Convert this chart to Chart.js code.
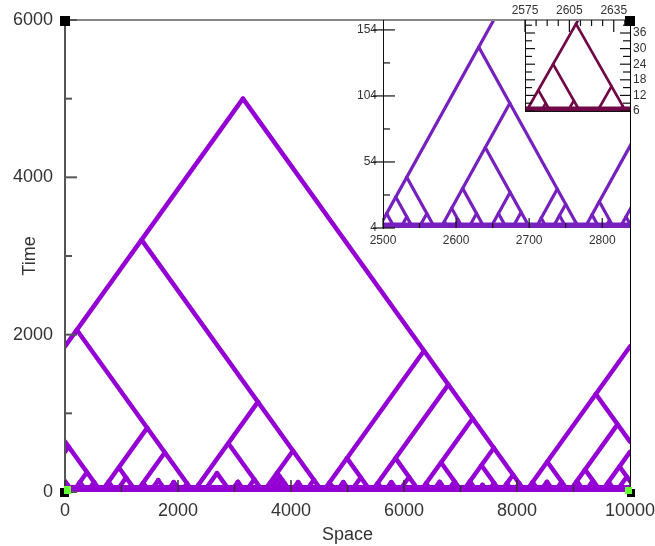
<!DOCTYPE html>
<html>
<head>
<meta charset="utf-8">
<title>Space-time diagram</title>
<script src="https://cdn.jsdelivr.net/npm/chart.js@4.4.1/dist/chart.umd.min.js"></script>
<style>
  html, body { margin: 0; padding: 0; background: #fff; }
  #stage { position: relative; width: 655px; height: 546px; }
  #stage canvas { position: absolute; left: 0; top: 0; }
</style>
</head>
<body>
<div id="stage">
  <canvas id="mainChart" width="655" height="546"></canvas>
  <canvas id="zoomChart" width="655" height="546"></canvas>
  <canvas id="detailChart" width="655" height="546"></canvas>
</div>
<script>
// Every particle starts at time 0 and sends one arm to the left and one to the right.
// Each arm runs at speed 1 until it hits another line (lifetimes).

// Main panel (space 0..10000, periodic)
const mainOrigin    = [138, 390, 640, 900, 1265, 1500, 1800, 2050, 2270, 2450, 2930, 3190, 3510, 3600, 3690, 3780, 4000, 4250, 4560, 4800, 5050, 5420, 5650, 5900, 6280, 6500, 6760, 7030, 7300, 7480, 7710, 7930, 8150, 8400, 8660, 8920, 9200, 9490, 9750];
const mainLeftLife  = [324, 126, 1245, 130, 312, 117, 150, 125, 2060, 90, 240, 130, 620, 45, 45, 45, 245, 125, 3205, 120, 125, 430, 115, 125, 430, 110, 130, 375, 135, 90, 340, 110, 5000, 125, 130, 385, 140, 285, 130];
const mainRightLife = [251, 125, 815, 182, 502, 150, 125, 110, 1145, 240, 130, 160, 525, 200, 155, 110, 125, 155, 1795, 125, 185, 1365, 125, 190, 935, 130, 135, 560, 90, 115, 220, 110, 5000, 130, 130, 860, 145, 575, 194];
const mainBaseRow = [0, 10000];   // the dense row of tiny particles near time 0
const mainBaseTime = 25;

// First zoom (space 2500..2838, time 4..161)
const zoomOrigin    = [2490, 2520, 2545, 2575, 2593, 2613, 2643, 2673, 2705, 2728, 2755, 2772, 2800, 2820, 2845];
const zoomLeftLife  = [10, 15, 27.5, 42.5, 9, 19, 34, 15, 65, 11.5, 13.5, 141, 14, 24, 12.5];
const zoomRightLife = [200, 12.5, 15, 98.5, 10, 15, 31, 16, 33.5, 22, 8.5, 100, 10, 40, 5];
const zoomBaseRow = [2490, 2850];
const zoomBaseTime = 5.5;

// Second zoom (space 2575..2646, time 6..41)
const detailOrigin    = [2570, 2580, 2598, 2608, 2618, 2626, 2633, 2641, 2649];
const detailLeftLife  = [3, 5, 14, 5, 24, 4, 7.5, 4, 39.5];
const detailRightLife = [60, 9, 10, 5, 15.5, 3.5, 8, 4, 3];
const detailBaseRow = [2570, 2650];
const detailBaseTime = 6.8;

// Tick labels and minor ticks
const spaceTicks = [0, 2000, 4000, 6000, 8000, 10000];
const spaceMinor = [1000, 3000, 5000, 7000, 9000];
const timeTicks = [0, 2000, 4000, 6000];
const timeMinor = [1000, 3000, 5000];
const zoomSpaceTicks = [2500, 2600, 2700, 2800];
const zoomSpaceMinor = [2550, 2650, 2750];
const zoomTimeTicks = [4, 54, 104, 154];
const zoomTimeMinor = [29, 79, 129];
const detailSpaceTicks = [2575, 2605, 2635];
const detailSpaceMinor = [2582.5, 2590, 2597.5, 2612.5, 2620, 2627.5, 2642.5];
const detailTimeTicks = [6, 12, 18, 24, 30, 36];
const detailTimeMinor = [9, 15, 21, 27, 33, 39];

// Build line segments for every arm (wrapping round the ring when asked)
function armSegments(origin, leftLife, rightLife, xMin, xMax, wrap) {
    const segs = [];
    origin.forEach((x0, i) => {
        [[-1, leftLife[i]], [1, rightLife[i]]].forEach(([dir, life]) => {
            const x1 = x0 + dir * life;
            if (wrap && (x1 < xMin || x1 > xMax)) {
                const edge = dir > 0 ? xMax : xMin;
                const other = dir > 0 ? xMin : xMax;
                const tEdge = Math.abs(edge - x0);
                segs.push([{x: x0, y: 0}, {x: edge, y: tEdge}]);
                segs.push([{x: other, y: tEdge}, {x: other + dir * (life - tEdge), y: life}]);
            } else {
                segs.push([{x: x0, y: 0}, {x: x1, y: life}]);
            }
        });
    });
    return segs;
}

function makeDatasets(segs, baseRow, baseTime, color, width, baseWidth) {
    const sets = segs.map(s => ({
        data: s, showLine: true, borderColor: color, borderWidth: width,
        borderCapStyle: 'round', pointRadius: 0, tension: 0
    }));
    sets.push({
        data: baseRow.map(x => ({x: x, y: baseTime})), showLine: true,
        borderColor: color, borderWidth: baseWidth, pointRadius: 0
    });
    return sets;
}

// Tick marks drawn inside the frames, through each chart's own scales
function drawMarks(chart, marks) {
    const {ctx, chartArea} = chart;
    marks.forEach(m => {
        const scale = chart.scales[m.scale];
        ctx.strokeStyle = m.color;
        ctx.lineWidth = m.width;
        m.values.forEach(v => {
            const p = scale.getPixelForValue(v);
            const e = chartArea[m.edge];
            ctx.beginPath();
            if (scale.isHorizontal()) { ctx.moveTo(p, e + m.from); ctx.lineTo(p, e + m.to); }
            else { ctx.moveTo(e + m.from, p); ctx.lineTo(e + m.to, p); }
            ctx.stroke();
        });
    });
}

function line(ctx, x1, y1, x2, y2, color, width) {
    ctx.strokeStyle = color;
    ctx.lineWidth = width;
    ctx.beginPath();
    ctx.moveTo(x1, y1);
    ctx.lineTo(x2, y2);
    ctx.stroke();
}

const bigFont = { family: 'Liberation Sans, Arial, sans-serif', size: 18 };
const smallFont = { family: 'Liberation Sans, Arial, sans-serif', size: 12 };

function axis(min, max, tickList, font, padding, fitSize, extra) {
    return Object.assign({
        type: 'linear', min: min, max: max,
        grid: { display: false, drawTicks: false },
        border: { display: false },
        afterBuildTicks: s => { s.ticks = tickList.map(v => ({value: v})); },
        afterFit: s => {
            if (s.isHorizontal()) s.height = fitSize; else s.width = fitSize;
            // keep label overhang from shrinking the plot area
            s.paddingLeft = 0; s.paddingRight = 0; s.paddingTop = 0; s.paddingBottom = 0;
        },
        ticks: { padding: padding, color: '#333', font: font, maxRotation: 0, autoSkip: false, callback: v => String(v) }
    }, extra || {});
}

const baseOptions = {
    responsive: false, animation: false, events: [],
    plugins: { legend: { display: false }, tooltip: { enabled: false } }
};

// ---- main panel ----
const mainPlugin = {
    id: 'mainDecor',
    afterDatasetsDraw(chart) {
        const {ctx, chartArea: a} = chart;
        ctx.save();
        line(ctx, a.left, a.top, a.right, a.top, '#888', 2);
        line(ctx, a.right + 0.5, a.top, a.right + 0.5, a.bottom, '#000', 1);
        line(ctx, a.left, a.top - 1, a.left, a.bottom, '#555', 2);
        drawMarks(chart, [
            {scale: 'y', edge: 'left', values: timeTicks, from: 0, to: 12, color: '#555', width: 2},
            {scale: 'y', edge: 'left', values: timeMinor, from: 0, to: 7, color: '#555', width: 2},
            {scale: 'x', edge: 'bottom', values: spaceTicks, from: 0, to: -12, color: '#333', width: 1.5},
            {scale: 'x', edge: 'bottom', values: spaceMinor, from: 0, to: -7, color: '#333', width: 1.5}
        ]);
        ctx.restore();
    }
};

new Chart(document.getElementById('mainChart'), {
    type: 'scatter',
    data: { datasets: makeDatasets(armSegments(mainOrigin, mainLeftLife, mainRightLife, 0, 10000, true),
                                   mainBaseRow, mainBaseTime, 'rgb(148,0,211)', 4.5, 10) },
    options: Object.assign({}, baseOptions, {
        layout: { padding: { left: 0, right: 25, top: 20, bottom: 0 } },
        scales: {
            x: axis(0, 10000, spaceTicks, bigFont, 8, 54, {
                title: { display: true, text: 'Space', color: '#333', font: bigFont, padding: { top: 0, bottom: 0 } }
            }),
            y: axis(0, 6000, timeTicks, bigFont, 12, 65, {
                title: { display: true, text: 'Time', color: '#333', font: bigFont, padding: { top: 19, bottom: 0 } }
            })
        }
    }),
    plugins: [mainPlugin]
});

// ---- first zoom ----
const zoomPlugin = {
    id: 'zoomDecor',
    beforeDatasetsDraw(chart) {
        const {ctx, chartArea: a} = chart;
        ctx.save();
        ctx.fillStyle = '#fff';
        ctx.fillRect(a.left, a.top, a.right - a.left, a.bottom - a.top);
        ctx.restore();
    },
    afterDatasetsDraw(chart) {
        const {ctx, chartArea: a} = chart;
        ctx.save();
        line(ctx, a.left, a.top, a.right, a.top, '#888', 2);
        line(ctx, a.right + 0.5, a.top, a.right + 0.5, a.bottom, '#000', 1);
        line(ctx, a.left + 0.5, a.top, a.left + 0.5, a.bottom + 1, '#111', 1);
        drawMarks(chart, [
            {scale: 'y', edge: 'left', values: zoomTimeTicks, from: -10, to: 12, color: '#111', width: 1.2},
            {scale: 'y', edge: 'left', values: zoomTimeMinor, from: 0, to: 7, color: '#111', width: 1.2},
            {scale: 'x', edge: 'bottom', values: zoomSpaceTicks, from: 0, to: -10, color: '#111', width: 1.2},
            {scale: 'x', edge: 'bottom', values: zoomSpaceMinor, from: 0, to: -5, color: '#111', width: 1.2}
        ]);
        ctx.restore();
    }
};

new Chart(document.getElementById('zoomChart'), {
    type: 'scatter',
    data: { datasets: makeDatasets(armSegments(zoomOrigin, zoomLeftLife, zoomRightLife, 2500, 2838, false),
                                   zoomBaseRow, zoomBaseTime, 'rgb(118,32,190)', 3.2, 7) },
    options: Object.assign({}, baseOptions, {
        layout: { padding: { left: 353, right: 25, top: 20, bottom: 298 } },
        scales: {
            x: axis(2500, 2838, zoomSpaceTicks, smallFont, 5, 20),
            y: axis(4, 161.5, zoomTimeTicks, smallFont, 6, 30)
        }
    }),
    plugins: [zoomPlugin]
});

// ---- second zoom (top layer, also carries the corner handles) ----
const detailPlugin = {
    id: 'detailDecor',
    beforeDatasetsDraw(chart) {
        const {ctx, chartArea: a} = chart;
        ctx.save();
        ctx.fillStyle = '#fff';
        ctx.fillRect(a.left, a.top, a.right - a.left, a.bottom - a.top);
        ctx.restore();
    },
    afterDatasetsDraw(chart) {
        const {ctx, chartArea: a} = chart;
        ctx.save();
        line(ctx, a.left, a.top, a.right, a.top, '#888', 2);
        line(ctx, a.right + 0.5, a.top, a.right + 0.5, a.bottom, '#000', 1);
        line(ctx, a.left + 0.5, a.top, a.left + 0.5, a.bottom, '#111', 1);
        line(ctx, a.left, a.bottom + 0.5, a.right, a.bottom + 0.5, '#111', 1);
        drawMarks(chart, [
            {scale: 'y', edge: 'left', values: detailTimeTicks, from: 0, to: 10, color: '#111', width: 1.2},
            {scale: 'y', edge: 'left', values: detailTimeMinor, from: 0, to: 7, color: '#111', width: 1.2},
            {scale: 'y', edge: 'right', values: detailTimeTicks, from: 0, to: -10, color: '#111', width: 1.2},
            {scale: 'y', edge: 'right', values: detailTimeMinor, from: 0, to: -7, color: '#111', width: 1.2},
            {scale: 'x', edge: 'top', values: detailSpaceTicks, from: 0, to: 12, color: '#111', width: 1.2},
            {scale: 'x', edge: 'top', values: detailSpaceMinor, from: 0, to: 6, color: '#111', width: 1.2}
        ]);
        ctx.restore();
    },
    afterDraw(chart) {
        // small square handles at the corners of the main frame
        const ctx = chart.ctx;
        ctx.save();
        ctx.fillStyle = '#000';
        ctx.fillRect(60, 16, 10, 10);
        ctx.fillRect(625, 16, 10, 10);
        ctx.fillRect(60, 488, 9, 9);
        ctx.fillRect(627, 489, 8, 8);
        ctx.fillStyle = '#66ff33';
        ctx.fillRect(64, 486, 7, 8);
        ctx.fillRect(625, 487, 7, 7);
        ctx.restore();
    }
};

new Chart(document.getElementById('detailChart'), {
    type: 'scatter',
    data: { datasets: makeDatasets(armSegments(detailOrigin, detailLeftLife, detailRightLife, 2575, 2646, false),
                                   detailBaseRow, detailBaseTime, 'rgb(112,8,72)', 2.7, 5) },
    options: Object.assign({}, baseOptions, {
        layout: { padding: { left: 525, right: 0, top: 0, bottom: 435 } },
        scales: {
            x: axis(2575, 2646, detailSpaceTicks, smallFont, 2, 20, { position: 'top' }),
            y: axis(6, 41, detailTimeTicks, smallFont, 3, 25, { position: 'right' })
        }
    }),
    plugins: [detailPlugin]
});
</script>
</body>
</html>
